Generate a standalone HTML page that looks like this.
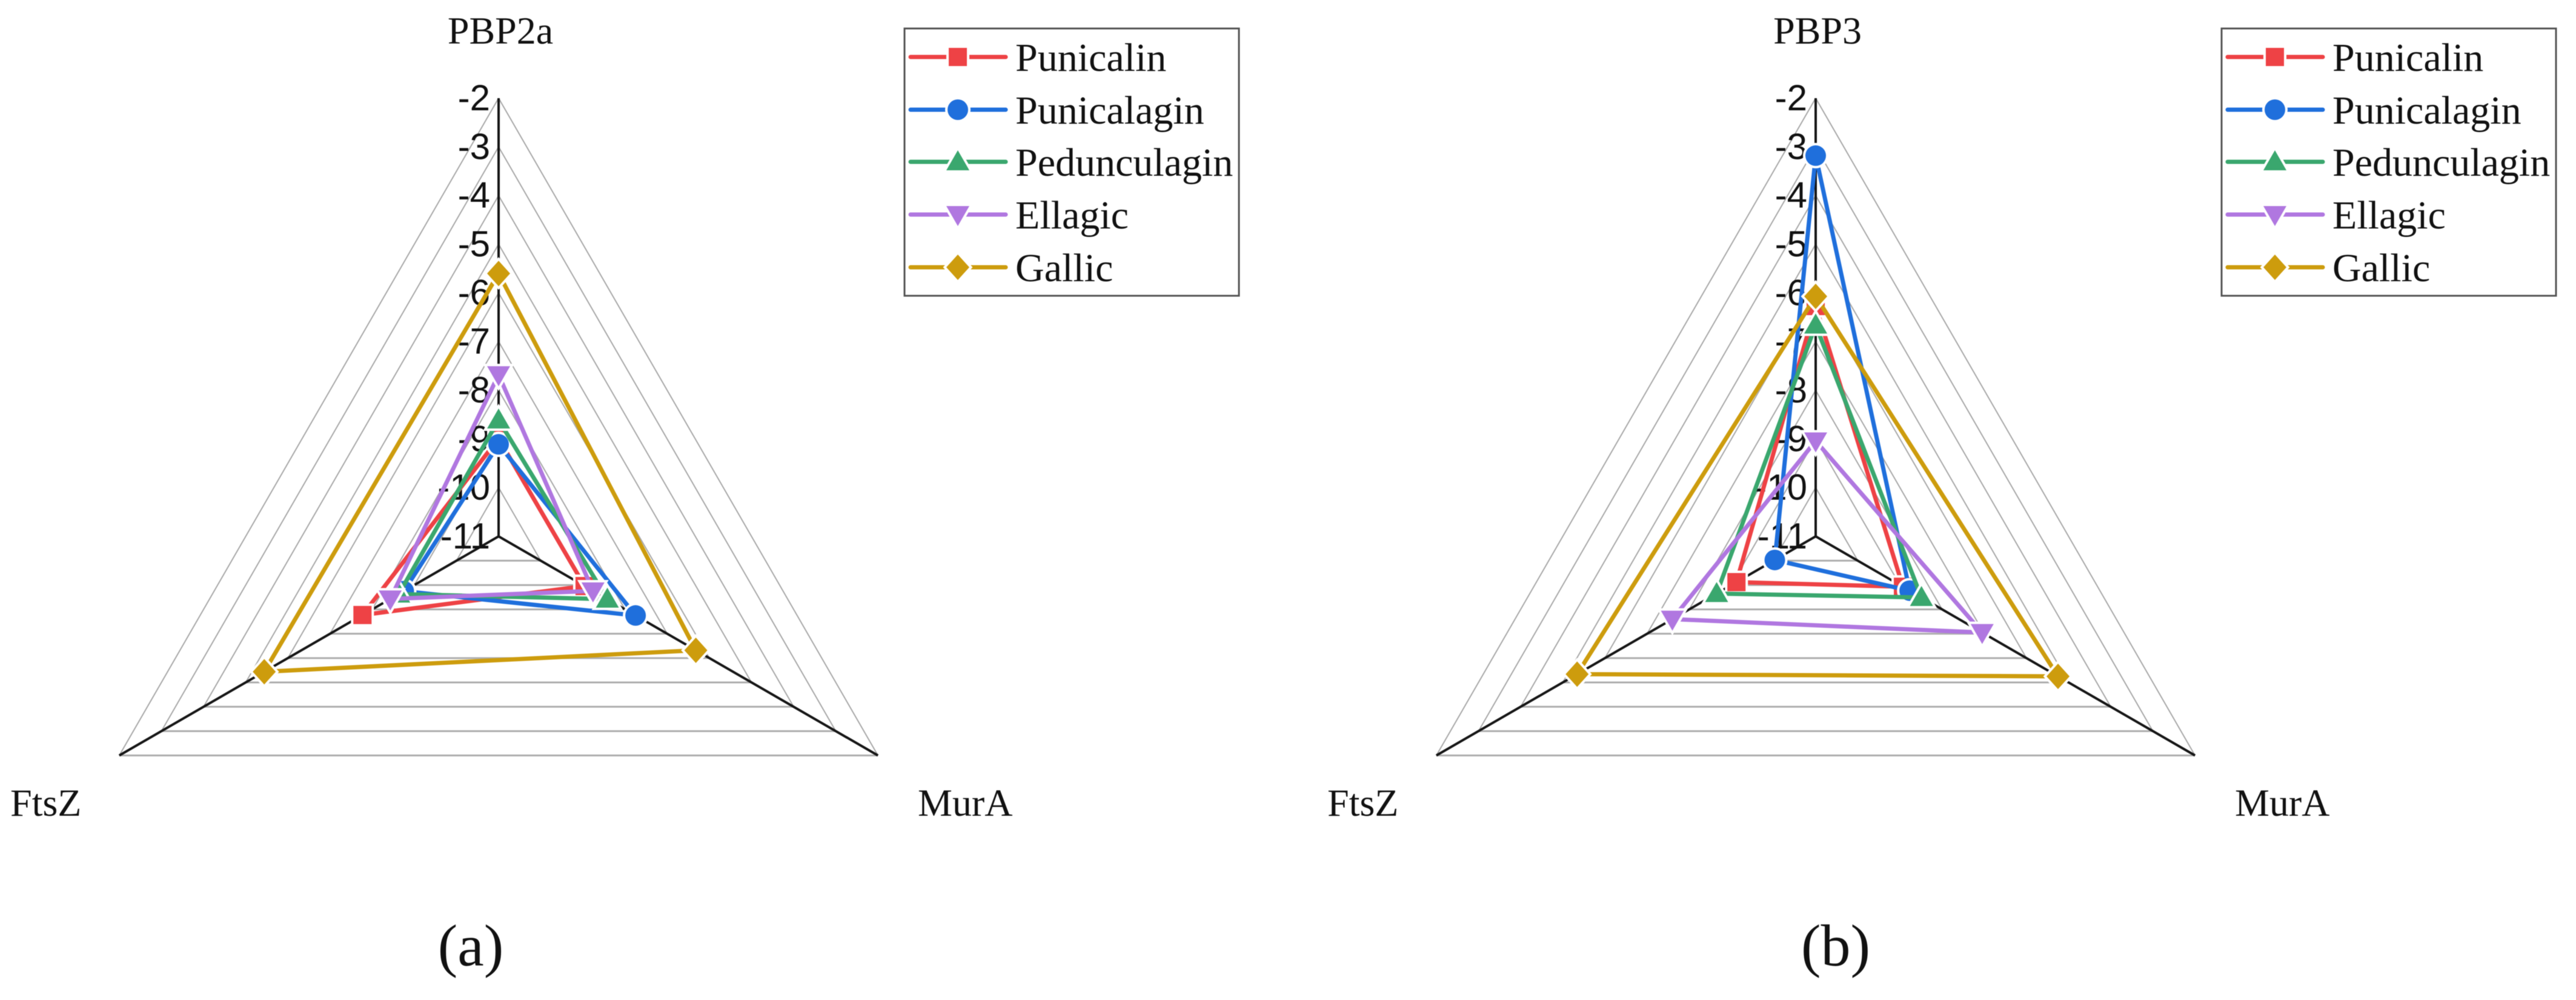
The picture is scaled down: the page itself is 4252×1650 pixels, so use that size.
<!DOCTYPE html>
<html lang="en">
<head>
<meta charset="utf-8">
<title>Radar charts of docking scores</title>
<style>
html,body{margin:0;padding:0;background:#fff;width:4252px;height:1650px;overflow:hidden}
svg{display:block;filter:blur(0.6px)}
.serif{font-family:"Liberation Serif",serif;fill:#111}
.sans{font-family:"Liberation Sans",sans-serif;fill:#111}
</style>
</head>
<body>
<svg id="figure" width="4252" height="1650" viewBox="0 0 4252 1650" xmlns="http://www.w3.org/2000/svg">
<rect x="0" y="0" width="4252" height="1650" fill="#fff"/>
</svg>
<script>
const ticks = [-2,-3,-4,-5,-6,-7,-8,-9,-10,-11];
const seriesNames = ['Punicalin','Punicalagin','Pedunculagin','Ellagic','Gallic'];
const axesA = ['PBP2a','MurA','FtsZ'];
const axesB = ['PBP3','MurA','FtsZ'];
// values per series, in order: top axis, MurA, FtsZ
const punicalinA = [-8.99,-8.96,-7.77];
const punicalaginA = [-9.11,-7.75,-8.75];
const pedunculaginA = [-8.61,-8.42,-8.63];
const ellagicA = [-7.68,-8.76,-8.43];
const gallicA = [-5.60,-6.32,-5.44];
const punicalinB = [-6.27,-8.93,-9.12];
const punicalaginB = [-3.18,-8.77,-10.03];
const pedunculaginB = [-6.66,-8.49,-8.65];
const ellagicB = [-9.04,-7.05,-7.60];
const gallicB = [-6.07,-5.25,-5.34];

const NS = 'http://www.w3.org/2000/svg';
const svg = document.getElementById('figure');
const colors = ['#ee4245','#1f6fdc','#3aa76e','#b077e0','#cd9c0d'];
const shapes = ['square','circle','up','down','diamond'];
const VMAX = -2, VMIN = -11, R = 723;
const ANG = [-Math.PI/2, Math.PI/6, Math.PI*5/6];

function make(tag, parent, name, attrs){
  const el = document.createElementNS(NS, tag);
  
  
  for (const k in attrs) el.setAttribute(k, attrs[k]);
  parent.appendChild(el);
  return el;
}
function rScale(v){ return (v - VMIN) / (VMAX - VMIN) * R; }
function pt(cx, cy, axis, v){
  const r = rScale(v);
  return [cx + r*Math.cos(ANG[axis]), cy + r*Math.sin(ANG[axis])];
}
function markerPath(shape, x, y){
  if (shape === 'square') return `M${x-15} ${y-15}H${x+15}V${y+15}H${x-15}Z`;
  if (shape === 'circle') return `M${x-17} ${y}A17 17 0 1 0 ${x+17} ${y}A17 17 0 1 0 ${x-17} ${y}Z`;
  if (shape === 'up') return `M${x} ${y-19}L${x+19} ${y+14}H${x-19}Z`;
  if (shape === 'down') return `M${x} ${y+19}L${x+19} ${y-14}H${x-19}Z`;
  return `M${x} ${y-21}L${x+19} ${y}L${x} ${y+21}L${x-19} ${y}Z`;
}
function drawMarker(g, i, x, y, name){
  make('path', g, name, {
    d: markerPath(shapes[i], x, y), fill: colors[i], stroke: '#fff',
    'stroke-width': 8, 'paint-order': 'stroke', 'stroke-linejoin': 'miter'
  });
}
function drawChart(prefix, cx, cy, axes, series, letter, captionX){
  const g = make('g', svg, prefix + '-radar-chart', {});
  const grid = make('g', g, prefix + '-grid', {});
  ticks.forEach(function(t){
    if (t === VMIN) return;
    const p = [0,1,2].map(function(a){ return pt(cx, cy, a, t); });
    make('line', grid, prefix + '-grid-base-' + t, {x1:p[1][0],y1:p[1][1],x2:p[2][0],y2:p[2][1],stroke:'#adadad','stroke-width':3});
    make('line', grid, prefix + '-grid-right-' + t, {x1:p[0][0],y1:p[0][1],x2:p[1][0],y2:p[1][1],stroke:'#a8a8a8','stroke-width':2});
    make('line', grid, prefix + '-grid-left-' + t, {x1:p[0][0],y1:p[0][1],x2:p[2][0],y2:p[2][1],stroke:'#a8a8a8','stroke-width':2});
  });
  [0,1,2].forEach(function(a){
    const e = pt(cx, cy, a, VMAX);
    make('line', g, prefix + '-axis-' + axes[a], {x1:cx,y1:cy,x2:e[0],y2:e[1],stroke:'#161616','stroke-width':4});
  });
  ticks.forEach(function(t){
    const p = pt(cx, cy, 0, t);
    const tx = make('text', g, prefix + '-tick-' + t, {x:cx-14,y:p[1]+20,'text-anchor':'end','font-size':60,class:'sans'});
    tx.textContent = String(t);
  });
  series.forEach(function(vals, i){
    const sg = make('g', g, prefix + '-series-' + seriesNames[i].toLowerCase(), {});
    const pts = vals.map(function(v, a){ return pt(cx, cy, a, v); });
    make('polygon', sg, prefix + '-line-' + seriesNames[i].toLowerCase(), {
      points: pts.map(function(p){ return p.join(','); }).join(' '),
      fill:'none', stroke:colors[i], 'stroke-width':7, 'stroke-linejoin':'round'
    });
    pts.forEach(function(p, a){
      drawMarker(sg, i, p[0], p[1], prefix + '-marker-' + seriesNames[i].toLowerCase() + '-' + axes[a]);
    });
  });
  const top = make('text', g, prefix + '-axis-label-top', {x:cx+3,y:72,'text-anchor':'middle','font-size':64,class:'serif'});
  top.textContent = axes[0];
  const ftsz = make('text', g, prefix + '-axis-label-ftsz', {x:cx-806,y:1346,'font-size':64,class:'serif'});
  ftsz.textContent = axes[2];
  const mura = make('text', g, prefix + '-axis-label-mura', {x:cx+692,y:1346,'font-size':64,class:'serif'});
  mura.textContent = axes[1];
  const cap = make('text', g, prefix + '-panel-caption', {x:captionX,y:1593,'text-anchor':'middle','font-size':98,class:'serif'});
  cap.textContent = letter;

  const lg = make('g', g, prefix + '-legend', {});
  make('rect', lg, prefix + '-legend-box', {x:cx+670,y:47,width:552,height:441,fill:'#fff',stroke:'#555','stroke-width':3});
  const rows = [94,181,267,354,441];
  seriesNames.forEach(function(n, i){
    const eg = make('g', lg, prefix + '-legend-entry-' + n.toLowerCase(), {});
    const y = rows[i];
    make('line', eg, prefix + '-legend-line-' + n.toLowerCase(), {x1:cx+680,y1:y,x2:cx+837,y2:y,stroke:colors[i],'stroke-width':7,'stroke-linecap':'round'});
    drawMarker(eg, i, cx+758, y, prefix + '-legend-marker-' + n.toLowerCase());
    const t = make('text', eg, prefix + '-legend-label-' + n.toLowerCase(), {x:cx+853,y:y+23,'font-size':66,class:'serif'});
    t.textContent = n;
  });
}
drawChart('panel-a', 823, 885, axesA, [punicalinA,punicalaginA,pedunculaginA,ellagicA,gallicA], '(a)', 777);
drawChart('panel-b', 2997, 885, axesB, [punicalinB,punicalaginB,pedunculaginB,ellagicB,gallicB], '(b)', 3030);
</script>
</body>
</html>
